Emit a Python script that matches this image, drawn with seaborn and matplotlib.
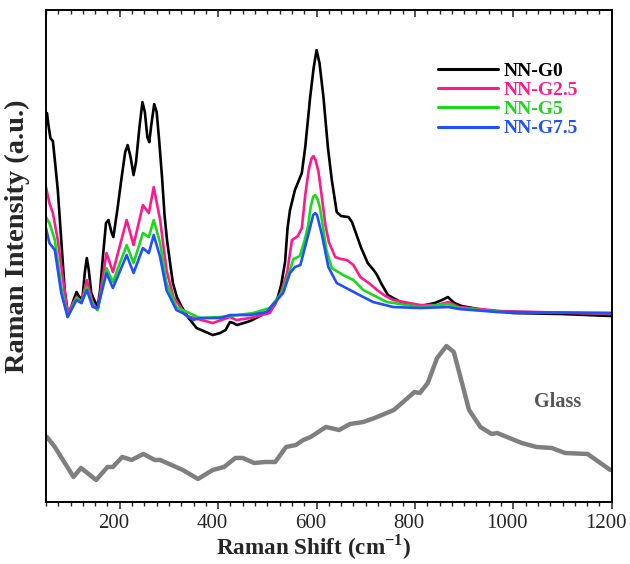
import numpy as np
import pandas as pd
import seaborn as sns
import matplotlib.pyplot as plt
import matplotlib.transforms as mtransforms
from matplotlib.ticker import MultipleLocator

# ---------------- data (arbitrary units) ----------------
g0_shift = [50, 52, 55, 59, 64, 68, 74, 81, 88, 94, 100, 106, 112, 118, 124, 129, 133, 137, 142,
            148, 155, 160, 166, 172, 177, 183, 187, 195, 203, 211, 216, 222, 228, 233, 240, 246,
            251, 256, 260, 264, 270, 275, 280, 286, 291, 296, 302, 308, 316, 326, 340, 356, 375,
            389, 404, 415, 424, 431, 438, 452, 465, 485, 505, 515, 522, 528, 536, 541, 546, 556,
            570, 577, 587, 594, 600, 606, 614, 623, 631, 641, 650, 665, 672, 680, 690, 704, 716,
            723, 731, 745, 771, 812, 840, 855, 867, 880, 895, 940, 1000, 1100, 1200]
g0_int = [387, 389, 377, 364, 361, 342, 312, 262, 212, 190, 193, 202, 210, 205, 203, 230, 244, 232, 209,
          202, 195, 212, 247, 279, 282, 270, 265, 292, 322, 350, 357, 345, 327, 340, 375, 400,
          390, 365, 360, 377, 398, 390, 362, 324, 287, 262, 240, 219, 205, 195, 184, 174, 170,
          167, 169, 172, 180, 179, 177, 179, 181, 186, 192, 197, 206, 217, 240, 274, 292, 312,
          329, 355, 405, 434, 452, 439, 405, 355, 322, 290, 286, 285, 280, 269, 255, 239, 232,
          227, 219, 207, 200, 196, 199, 202, 205, 199, 196, 192, 189, 188, 186]

g25_shift = [50, 57, 64, 74, 84, 94, 112, 122, 133, 145, 155, 173, 186, 214, 228, 247, 259, 269, 282,
             295, 309, 336, 389, 424, 437, 465, 505, 526, 540, 550, 562, 570, 577, 584, 590, 594,
             598, 604, 611, 618, 625, 638, 650, 662, 675, 689, 709, 723, 740, 756, 811, 845, 868,
             890, 974, 1200]
g25_int = [315, 299, 289, 262, 225, 189, 205, 200, 222, 199, 192, 249, 230, 282, 257, 297, 289, 315, 282,
           232, 205, 186, 179, 185, 182, 184, 189, 207, 229, 262, 266, 274, 307, 332, 344, 346,
           342, 330, 304, 277, 260, 245, 243, 242, 237, 225, 218, 212, 206, 202, 197, 197, 200,
           195, 191, 188]

g5_shift = [50, 57, 68, 81, 94, 112, 122, 133, 145, 155, 173, 186, 214, 228, 247, 259, 269, 282, 295,
            315, 363, 404, 424, 471, 505, 529, 546, 553, 566, 576, 583, 588, 593, 597, 602, 607,
            614, 620, 631, 654, 675, 695, 715, 743, 811, 868, 890, 974, 1200]
g5_int = [285, 279, 262, 215, 185, 204, 199, 215, 197, 192, 234, 220, 257, 239, 269, 265, 282, 259, 219,
          195, 184, 185, 186, 189, 194, 209, 232, 243, 246, 262, 277, 295, 305, 307, 303, 294,
          272, 252, 234, 227, 222, 212, 207, 200, 195, 198, 194, 190, 189]

g75_shift = [50, 57, 68, 81, 94, 112, 122, 133, 145, 155, 173, 186, 214, 228, 247, 259, 269, 282, 295,
             315, 328, 349, 363, 404, 424, 465, 499, 505, 532, 546, 556, 567, 583, 588, 593, 597,
             601, 606, 611, 624, 641, 668, 695, 715, 756, 811, 868, 890, 968, 1200]
g75_int = [274, 259, 252, 209, 185, 202, 199, 212, 195, 194, 229, 214, 247, 229, 254, 249, 267, 245, 212,
           192, 189, 182, 184, 184, 187, 187, 190, 194, 209, 229, 235, 237, 267, 277, 287, 289,
           287, 277, 267, 235, 219, 212, 205, 200, 195, 194, 195, 193, 190, 189]

glass_shift = [52, 68, 106, 121, 152, 175, 186, 205, 224, 248, 271, 282, 328, 359, 389, 412, 435, 450,
               473, 496, 516, 538, 558, 573, 588, 619, 646, 668, 695, 718, 757, 776, 799, 810, 826,
               845, 864, 879, 894, 910, 933, 956, 967, 1017, 1047, 1078, 1105, 1151, 1197]
glass_int = [65, 55, 25, 34, 22, 35, 35, 45, 42, 48, 42, 42, 32, 23, 32, 35, 44, 44,
             39, 40, 40, 55, 57, 62, 65, 75, 72, 78, 80, 84, 92, 100, 110, 109, 119,
             144, 156, 150, 122, 92, 75, 68, 69, 59, 55, 54, 49, 48, 32]

samples = ['NN-G0', 'NN-G2.5', 'NN-G5', 'NN-G7.5']
colors = ['#000000', '#ff1a8c', '#19d919', '#1f4fff']

spectra = pd.concat([
    pd.DataFrame({'shift': s, 'intensity': i, 'sample': n})
    for s, i, n in zip([g0_shift, g25_shift, g5_shift, g75_shift],
                       [g0_int, g25_int, g5_int, g75_int], samples)
])
glass = pd.DataFrame({'shift': glass_shift, 'intensity': glass_int})

# ---------------- plot ----------------
sns.set_style('ticks')
plt.rcParams['font.family'] = ['Liberation Serif', 'DejaVu Serif']
plt.rcParams['mathtext.fontset'] = 'custom'
plt.rcParams['mathtext.rm'] = 'Liberation Serif'
plt.rcParams['mathtext.bf'] = 'Liberation Serif:bold'

fig = plt.figure(figsize=(6.3, 5.64), dpi=100)
ax = fig.add_axes([0.073, 0.110, 0.898, 0.872])

sns.lineplot(data=glass, x='shift', y='intensity', color='#7f7f7f', lw=3.2,
             estimator=None, sort=False, ax=ax)
for name, col in zip(samples, colors):
    sns.lineplot(data=spectra[spectra['sample'] == name], x='shift', y='intensity',
                 color=col, lw=1.9, estimator=None, sort=False, label=name, ax=ax)

ax.set_xlim(50, 1200)
ax.set_ylim(0, 492)
ax.set_yticks([])
ax.set_xticks([200, 400, 600, 800, 1000, 1200])
ax.xaxis.set_minor_locator(MultipleLocator(25))
ax.tick_params(axis='x', which='major', direction='out', length=5, width=1.1,
               labelsize=15, pad=4)
ax.tick_params(axis='x', which='minor', direction='out', length=3, width=1.0)

# tick labels sit a little left of their ticks in the original
shift_left = mtransforms.ScaledTranslation(-6 / 100, 0, fig.dpi_scale_trans)
for lbl in ax.get_xticklabels():
    lbl.set_transform(lbl.get_transform() + shift_left)

# mirrored ticks on the top spine, pointing inward
ax_top = ax.twiny()
ax_top.set_xlim(ax.get_xlim())
ax_top.set_xticks([200, 400, 600, 800, 1000, 1200])
ax_top.xaxis.set_minor_locator(MultipleLocator(25))
ax_top.tick_params(axis='x', which='major', direction='in', length=5, width=1.1,
                   labeltop=False)
ax_top.tick_params(axis='x', which='minor', direction='in', length=3, width=1.0)

for a in (ax, ax_top):
    for sp in a.spines.values():
        sp.set_linewidth(1.2)
        sp.set_color('black')

ax.set_xlabel('Raman Shift (cm$^{\\mathbf{-1}}$)', fontsize=16.7, fontweight='bold')
ax.xaxis.set_label_coords(0.473, -0.062)
ax.set_ylabel('Raman Intensity (a.u.)', fontsize=20.5, fontweight='bold')
ax.yaxis.set_label_coords(-0.029, 0.54)

ax.text(1090, 100, 'Glass', fontsize=14.5, fontweight='bold', color='#555555',
        ha='center', va='center')

leg = ax.legend(loc='upper left', bbox_to_anchor=(0.693, 0.894), frameon=False,
                handlelength=3.1, handletextpad=0.25, labelspacing=0.08, borderpad=0,
                borderaxespad=0, labelcolor='linecolor',
                prop={'family': 'Liberation Serif', 'weight': 'bold', 'size': 14})
for line in leg.get_lines():
    line.set_linewidth(2.2)

fig.savefig('out.png', dpi=100)
